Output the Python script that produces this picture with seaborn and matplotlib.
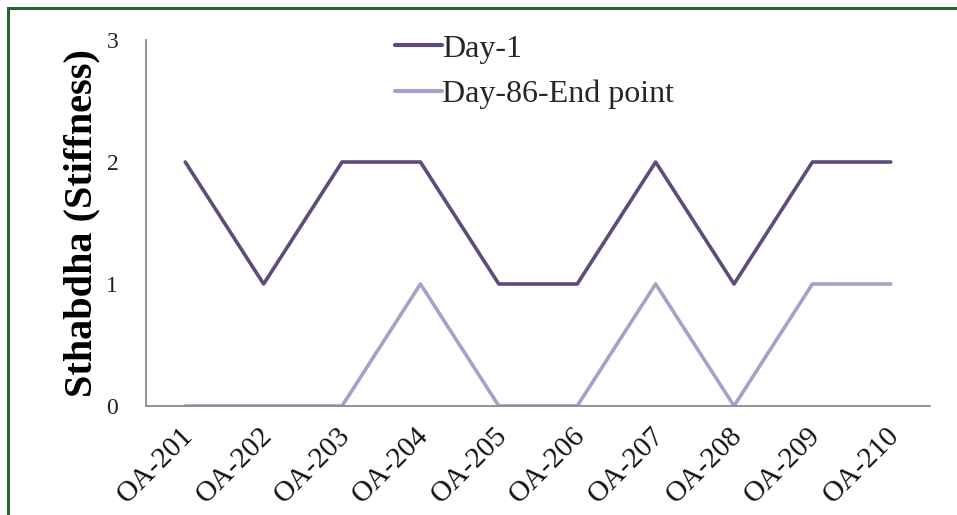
import matplotlib
matplotlib.use("Agg")
import matplotlib.pyplot as plt
import matplotlib.transforms as mtransforms
import seaborn as sns
import pandas as pd
from matplotlib.patches import Rectangle

categories = ["OA-201", "OA-202", "OA-203", "OA-204", "OA-205",
              "OA-206", "OA-207", "OA-208", "OA-209", "OA-210"]
day1 = [2, 1, 2, 2, 1, 1, 2, 1, 2, 2]
day86 = [0, 0, 0, 1, 0, 0, 1, 0, 1, 1]
series_names = ["Day-1", "Day-86-End point"]
y_ticks = [0, 1, 2, 3]

df = pd.DataFrame({
    "patient": categories * 2,
    "score": day1 + day86,
    "series": [series_names[0]] * len(categories) + [series_names[1]] * len(categories),
})

sns.set_theme(style="white")
plt.rcParams["font.family"] = ["Liberation Serif", "DejaVu Serif"]

fig = plt.figure(figsize=(9.57, 5.15), dpi=100)
ax = fig.add_axes([0.1526, 0.2117, 0.8192, 0.7106])

palette = {series_names[0]: "#5f4b7c", series_names[1]: "#ab9fc8"}
sns.lineplot(data=df, x="patient", y="score", hue="series", palette=palette,
             linewidth=2.6, sort=False, ax=ax, legend=True)

ax.set_xlim(-0.5, len(categories) - 0.5)
ax.set_ylim(0, 3)
ax.set_yticks(y_ticks)
ax.set_yticklabels([str(t) for t in y_ticks])
ax.set_xlabel("")
ax.set_ylabel("Sthabdha (Stiffness)", fontsize=29, fontweight="bold", color="black")
ax.yaxis.set_label_coords(-0.058, 0.5)
ax.tick_params(axis="y", length=0, pad=20, labelsize=17, labelcolor="#222222")
ax.tick_params(axis="x", length=0, pad=12, labelsize=21, labelcolor="#111111")
shift = mtransforms.ScaledTranslation(-5 / 100, 0, fig.dpi_scale_trans)
for lbl in ax.get_xticklabels():
    lbl.set_rotation(45)
    lbl.set_ha("right")
    lbl.set_va("top")
    lbl.set_rotation_mode("anchor")
    lbl.set_transform(lbl.get_transform() + shift)

for s in ["top", "right"]:
    ax.spines[s].set_visible(False)
for s in ["left", "bottom"]:
    ax.spines[s].set_color("#8a8a8a")
    ax.spines[s].set_linewidth(1.3)

leg = ax.legend(loc="upper left", bbox_to_anchor=(0.317, 1.016), frameon=False,
                fontsize=23, handlelength=1.5, handletextpad=0.0,
                labelspacing=0.5, borderaxespad=0, borderpad=0)
for line in leg.get_lines():
    line.set_linewidth(3.0)

fig.patches.append(Rectangle((0.0084, -0.05), 1.1, 0.9845 + 0.05, transform=fig.transFigure,
                             fill=False, edgecolor="#1e6e1e", linewidth=2.2))

fig.savefig("out.png", dpi=100)
